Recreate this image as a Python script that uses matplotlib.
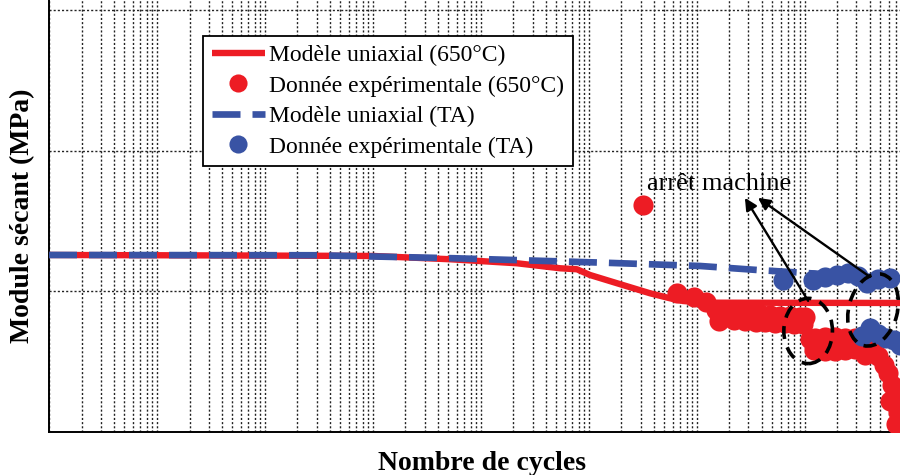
# coding: utf-8
import matplotlib
matplotlib.use('Agg')
import matplotlib.pyplot as plt
import matplotlib.transforms as mtransforms
from matplotlib.patches import Ellipse
from matplotlib.ticker import LogLocator, NullFormatter
import numpy as np

plt.rcParams['font.family'] = ['Liberation Serif', 'DejaVu Serif']

rouge = '#ED1C24'
bleu = '#3953A4'

# modele uniaxial 650°C
n_mod_650 = [1, 30, 1000, 5200, 21500, 54000, 77400, 102000, 182000, 367000, 562000, 741000, 1.14e6, 8e7]
e_mod_650 = [162900, 162750, 162550, 161380, 159960, 158180, 157820, 155800, 152850, 149300, 147520, 146560, 145950, 145850]

# modele uniaxial TA
n_mod_ta = [1, 300, 5740, 135000, 1.07e6, 3.6e6, 5.74e7, 8e7]
e_mod_ta = [162900, 162800, 161730, 160170, 158990, 157570, 154730, 154400]

# essais 650°C (avant et apres l'arret machine)
n_exp_650 = [316000, 653000, 938000, 1.21e6, 1.5e6, 1.7e6, 2.02e6, 2.5e6, 3.1e6, 3.83e6, 4.74e6, 5.87e6, 7.27e6, 9.0e6, 1.0e7,
             1.6e6, 2.2e6, 2.8e6, 3.5e6, 4.3e6, 5.3e6, 6.5e6, 8.0e6, 9.5e6,
             1.12e7, 1.24e7, 1.53e7, 1.9e7, 2.35e7, 2.9e7, 3.59e7, 4.17e7, 4.74e7, 5.38e7, 5.87e7, 6.4e7, 6.81e7, 7.26e7, 7.6e7,
             1.2e7, 1.53e7, 1.9e7, 2.35e7, 2.9e7, 3.59e7, 6.1e7, 7.0e7]
e_exp_650 = [180680, 149400, 147980, 146200, 143360, 141230, 142650, 143360, 142650, 141940, 141580, 141230, 141230, 140870, 140870,
             139500, 139800, 139300, 139000, 139000, 138800, 138800, 138500, 138500,
             133000, 133400, 133700, 133700, 133400, 133400, 132300, 129800, 127010, 123810, 120970, 116700, 112080, 107110, 104260,
             129000, 128800, 128800, 129000, 129400, 127500, 111000, 103000]

# essais TA
n_exp_ta = [6.26e6, 1.19e7, 1.53e7, 1.98e7, 2.5e7, 3.1e7, 3.75e7, 4.74e7, 6.12e7,
            3.37e7, 4.0e7, 4.74e7, 5.62e7, 6.67e7, 7.6e7]
e_exp_ta = [154020, 154020, 155090, 155800, 156510, 155440, 152950, 154380, 154730,
            134120, 136960, 134830, 133410, 132700, 130920]

fig = plt.figure(figsize=(9, 4.75), dpi=100)
ax = fig.add_axes([49 / 900, 43 / 475, 851 / 900, 432 / 475])
ax.set_xscale('log')
ax.set_xlim(1, 10 ** 7.88)
ax.set_ylim(100000, 253500)

ax.plot(n_mod_650, e_mod_650, color=rouge, lw=4.6, solid_capstyle='butt', zorder=3,
        label='Modèle uniaxial (650°C)')
ax.plot(n_exp_650, e_exp_650, 'o', color=rouge, ms=14.5, mew=0, zorder=3,
        label='Donnée expérimentale (650°C)')
ax.plot(n_mod_ta, e_mod_ta, color=bleu, lw=4.8, ls=(0, (4.2, 1.8)), dash_capstyle='butt', zorder=4,
        label='Modèle uniaxial (TA)')
ax.plot(n_exp_ta, e_exp_ta, 'o', color=bleu, ms=14.5, mew=0, zorder=4,
        label='Donnée expérimentale (TA)')

# grille
ax.xaxis.set_major_locator(LogLocator(base=10, numticks=100))
ax.xaxis.set_minor_locator(LogLocator(base=10, subs=np.arange(2, 10), numticks=100))
ax.xaxis.set_minor_formatter(NullFormatter())
ax.set_yticks([150000, 200000, 250000])
ax.grid(True, which='both', axis='x', color='#222222', lw=1.0, ls=(0, (1.5, 1.5)))
ax.grid(True, which='major', axis='y', color='#222222', lw=1.0, ls=(0, (1.5, 1.5)))
ax.tick_params(which='both', length=0, labelleft=False, labelbottom=False)
ax.spines['top'].set_visible(False)
ax.spines['right'].set_visible(False)
ax.spines['left'].set_linewidth(1.4)
ax.spines['bottom'].set_linewidth(1.4)

ax.set_xlabel('Nombre de cycles', fontsize=20, fontweight='bold')
ax.xaxis.set_label_coords(0.509, -0.045)
ax.set_ylabel('Module sécant (MPa)', fontsize=20, fontweight='bold')
ax.yaxis.set_label_coords(-0.016, 0.5)

leg = ax.legend(loc='upper left', bbox_to_anchor=(203 / 900, 1 - 36 / 475), bbox_transform=fig.transFigure,
                fontsize=17, frameon=True, fancybox=False, framealpha=1, edgecolor='k',
                borderaxespad=0, borderpad=0.36, labelspacing=0.38, handlelength=2.25, handletextpad=0.2,
                markerscale=0.9)
leg.get_frame().set_linewidth(1.3)
leg.set_zorder(10)


# ellipses "arrêt machine" (taille en points)
def cercle(x, y, w, h, ang):
    tr = (mtransforms.Affine2D().scale(1 / 72) + fig.dpi_scale_trans
          + mtransforms.ScaledTranslation(x, y, ax.transData))
    ax.add_patch(Ellipse((0, 0), w, h, angle=ang, fill=False, ec='k', lw=2.6,
                         ls=(0, (3.6, 2.4)), transform=tr, zorder=6))


cercle(1.07e7, 135900, 35, 47, 0)
cercle(4.27e7, 143360, 35, 53, -15)

ax.text(3.44e5, 188100, 'arrêt machine', fontsize=19, va='center', ha='left', zorder=7)
ax.annotate('', xy=(2.78e6, 183200), xytext=(1.07e7, 146600),
            arrowprops=dict(arrowstyle='-|>', color='k', lw=1.7, mutation_scale=18, shrinkA=0, shrinkB=0), zorder=7)
ax.annotate('', xy=(3.67e6, 183200), xytext=(4.0e7, 155100),
            arrowprops=dict(arrowstyle='-|>', color='k', lw=1.7, mutation_scale=18, shrinkA=0, shrinkB=0), zorder=7)

fig.savefig('out.png', dpi=100)
